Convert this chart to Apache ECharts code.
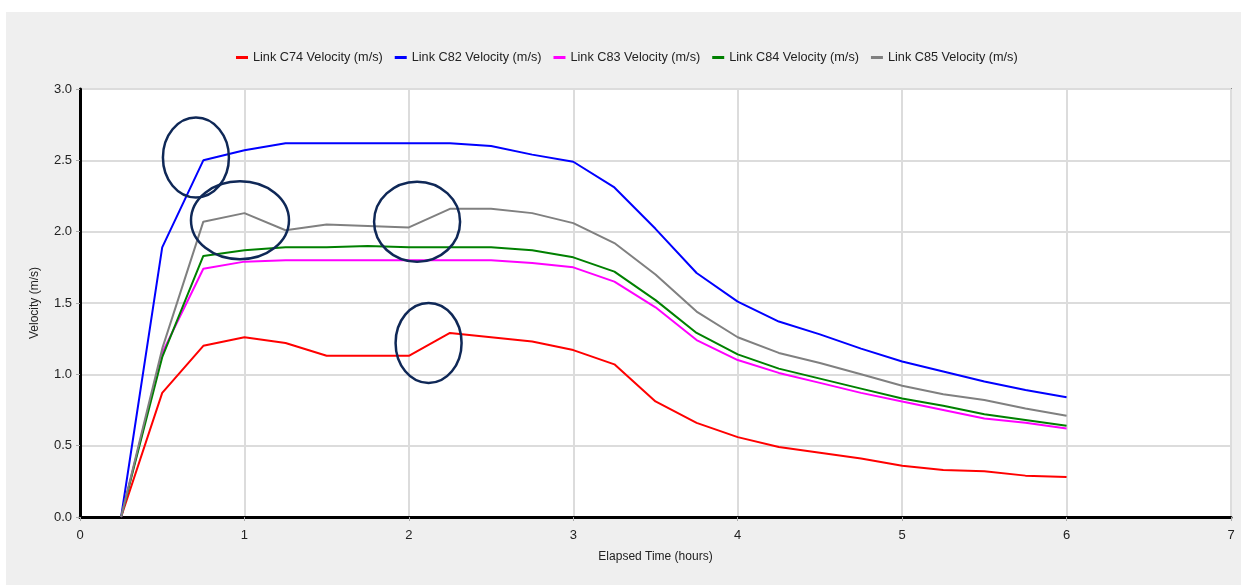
<!DOCTYPE html>
<html>
<head>
<meta charset="utf-8">
<title>Link velocity</title>
<script src="https://cdn.jsdelivr.net/npm/echarts@6/dist/echarts.min.js"></script>
<style>
    html, body { margin: 0; padding: 0; background: #ffffff; }
    #panel { position: absolute; left: 6px; top: 12px; width: 1235px; height: 573px; background: #efefef; }
    #chart { position: absolute; left: 0; top: 0; width: 1241px; height: 585px; }
</style>
</head>
<body>
<div id="panel"></div>
<div id="chart"></div>
<script>
// elapsed time (hours)
const times = [0.25, 0.5, 0.75, 1, 1.25, 1.5, 1.75, 2, 2.25, 2.5, 2.75, 3,
    3.25, 3.5, 3.75, 4, 4.25, 4.5, 4.75, 5, 5.25, 5.5, 5.75, 6];

// velocities (m/s)
const c74 = [0, 0.87, 1.20, 1.26, 1.22, 1.13, 1.13, 1.13, 1.29, 1.26, 1.23, 1.17,
    1.07, 0.81, 0.66, 0.56, 0.49, 0.45, 0.41, 0.36, 0.33, 0.32, 0.29, 0.28];
const c82 = [0, 1.89, 2.50, 2.57, 2.62, 2.62, 2.62, 2.62, 2.62, 2.60, 2.54, 2.49,
    2.31, 2.02, 1.71, 1.51, 1.37, 1.28, 1.18, 1.09, 1.02, 0.95, 0.89, 0.84];
const c83 = [0, 1.15, 1.74, 1.79, 1.80, 1.80, 1.80, 1.80, 1.80, 1.80, 1.78, 1.75,
    1.65, 1.47, 1.24, 1.10, 1.01, 0.94, 0.87, 0.81, 0.75, 0.69, 0.66, 0.62];
const c84 = [0, 1.12, 1.83, 1.87, 1.89, 1.89, 1.90, 1.89, 1.89, 1.89, 1.87, 1.82,
    1.72, 1.52, 1.29, 1.14, 1.04, 0.97, 0.90, 0.83, 0.78, 0.72, 0.68, 0.64];
const c85 = [0, 1.18, 2.07, 2.13, 2.01, 2.05, 2.04, 2.03, 2.16, 2.16, 2.13, 2.06,
    1.92, 1.70, 1.44, 1.26, 1.15, 1.08, 1.00, 0.92, 0.86, 0.82, 0.76, 0.71];

const seriesNames = ["Link C74 Velocity (m/s)", "Link C82 Velocity (m/s)",
    "Link C83 Velocity (m/s)", "Link C84 Velocity (m/s)", "Link C85 Velocity (m/s)"];
const seriesValues = [c74, c82, c83, c84, c85];
const colors = ["#ff0000", "#0000ff", "#ff00ff", "#008000", "#808080"];

// hand drawn circles on the picture: [time, velocity] centre
const marks = [[0.705, 2.52], [0.973, 2.08], [2.05, 2.07], [2.12, 1.22]];
const markRadii = [[33, 40], [49, 39], [43, 40], [33, 40]];

const font = "'Liberation Sans', Arial, sans-serif";

const chart = echarts.init(document.getElementById("chart"), null, { renderer: "canvas" });

const series = seriesNames.map((name, i) => ({
    name: name,
    type: "line",
    data: times.map((t, j) => [t, seriesValues[i][j]]),
    showSymbol: false,
    lineStyle: { width: 2, color: colors[i] },
    itemStyle: { color: colors[i] },
    z: 3
}));

chart.setOption({
    animation: false,
    backgroundColor: "transparent",
    textStyle: { fontFamily: font },
    legend: {
        left: 231,
        top: 46,
        icon: "rect",
        itemWidth: 12,
        itemHeight: 3,
        itemGap: 12,
        textStyle: { fontSize: 12.7, color: "#222", fontFamily: font },
        data: seriesNames
    },
    grid: {
        left: 80, right: 10, top: 89, bottom: 68,
        show: true,
        backgroundColor: "#ffffff",
        borderColor: "#8a8a8a",
        borderWidth: 2
    },
    xAxis: {
        type: "value",
        min: 0, max: 7, interval: 1,
        name: "Elapsed Time (hours)",
        nameLocation: "middle",
        nameGap: 34,
        nameTextStyle: { fontSize: 12, color: "#222" },
        axisLine: { onZero: false, lineStyle: { color: "#000", width: 3 } },
        axisTick: { show: true, length: 4, lineStyle: { color: "#aaa" } },
        axisLabel: { fontSize: 13, color: "#222", margin: 12 },
        splitLine: { show: true, lineStyle: { color: "#dcdcdc", width: 2 } }
    },
    yAxis: {
        type: "value",
        min: 0, max: 3, interval: 0.5,
        name: "Velocity (m/s)",
        nameLocation: "middle",
        nameGap: 39,
        nameTextStyle: { fontSize: 12, color: "#222" },
        axisLine: { show: true, onZero: false, lineStyle: { color: "#000", width: 3 } },
        axisTick: { show: true, length: 4, lineStyle: { color: "#aaa" } },
        axisLabel: { fontSize: 13, color: "#222", margin: 8, formatter: v => v.toFixed(1) },
        splitLine: { show: true, lineStyle: { color: "#dcdcdc", width: 2 } }
    },
    series: series
});

// circles placed through the axes
const ellipses = marks.map((m, i) => {
    const p = chart.convertToPixel({ gridIndex: 0 }, m);
    return {
        type: "ellipse",
        shape: { cx: p[0], cy: p[1], rx: markRadii[i][0], ry: markRadii[i][1] },
        style: { fill: null, stroke: "#0f2857", lineWidth: 2.5 },
        z: 100
    };
});
chart.setOption({ graphic: ellipses });
</script>
</body>
</html>
